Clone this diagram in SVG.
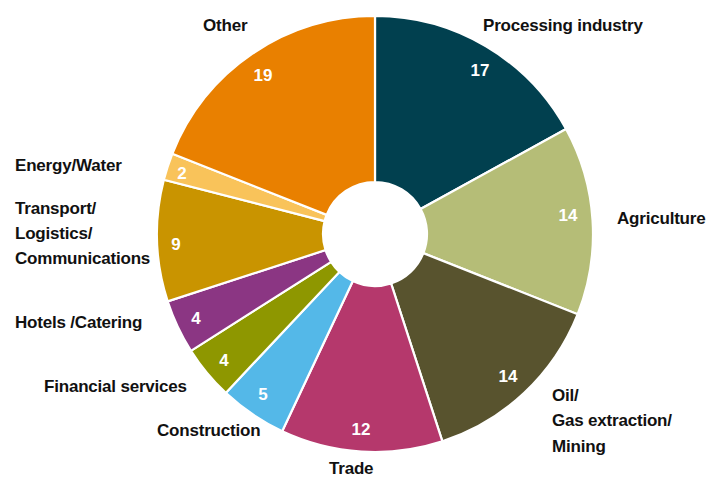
<svg xmlns="http://www.w3.org/2000/svg" width="708" height="479" viewBox="0 0 708 479">
<style>
.seg{stroke:#fff;stroke-width:2.2;stroke-linejoin:miter}
.lbl{font-family:"Liberation Sans",Arial,sans-serif;font-weight:bold;font-size:17px;fill:#111;letter-spacing:-0.2px}
.val{font-family:"Liberation Sans",Arial,sans-serif;font-weight:bold;font-size:17px;fill:#fff;text-anchor:middle}
</style>
<rect width="708" height="479" fill="#fff"/>
<g id="processing">
<path class="seg" fill="#01404f" d="M375,16 A218,218 0 0 1 566.04,128.98 L420.57,208.95 A52,52 0 0 0 375,182 Z"/>
<text class="val" x="480" y="76">17</text>
<text class="lbl" x="483" y="31">Processing industry</text>
</g>
<g id="agriculture">
<path class="seg" fill="#b5bd77" d="M566.04,128.98 A218,218 0 0 1 577.69,314.25 L423.35,253.14 A52,52 0 0 0 420.57,208.95 Z"/>
<text class="val" x="568" y="221">14</text>
<text class="lbl" x="617" y="224">Agriculture</text>
</g>
<g id="oil">
<path class="seg" fill="#58532e" d="M577.69,314.25 A218,218 0 0 1 442.37,441.33 L391.07,283.46 A52,52 0 0 0 423.35,253.14 Z"/>
<text class="val" x="508" y="382">14</text>
<text class="lbl" x="552" y="401">Oil/</text>
<text class="lbl" x="552" y="426">Gas extraction/</text>
<text class="lbl" x="552" y="452">Mining</text>
</g>
<g id="trade">
<path class="seg" fill="#b5386c" d="M442.37,441.33 A218,218 0 0 1 282.18,431.25 L352.86,281.05 A52,52 0 0 0 391.07,283.46 Z"/>
<text class="val" x="361" y="435">12</text>
<text class="lbl" x="329" y="474">Trade</text>
</g>
<g id="construction">
<path class="seg" fill="#54b8e8" d="M282.18,431.25 A218,218 0 0 1 225.77,392.92 L339.40,271.91 A52,52 0 0 0 352.86,281.05 Z"/>
<text class="val" x="263" y="400">5</text>
<text class="lbl" x="157" y="436">Construction</text>
</g>
<g id="financial">
<path class="seg" fill="#8e9700" d="M225.77,392.92 A218,218 0 0 1 190.94,350.81 L331.09,261.86 A52,52 0 0 0 339.40,271.91 Z"/>
<text class="val" x="224" y="366">4</text>
<text class="lbl" x="44" y="392">Financial services</text>
</g>
<g id="hotels">
<path class="seg" fill="#8b3683" d="M190.94,350.81 A218,218 0 0 1 167.67,301.37 L325.54,250.07 A52,52 0 0 0 331.09,261.86 Z"/>
<text class="val" x="196" y="324">4</text>
<text class="lbl" x="15" y="328">Hotels /Catering</text>
</g>
<g id="transport">
<path class="seg" fill="#c99400" d="M167.67,301.37 A218,218 0 0 1 163.85,179.79 L324.63,221.07 A52,52 0 0 0 325.54,250.07 Z"/>
<text class="val" x="176" y="250">9</text>
<text class="lbl" x="15" y="214">Transport/</text>
<text class="lbl" x="15" y="239">Logistics/</text>
<text class="lbl" x="15" y="264">Communications</text>
</g>
<g id="energy">
<path class="seg" fill="#f9c35a" d="M163.85,179.79 A218,218 0 0 1 172.31,153.75 L326.65,214.86 A52,52 0 0 0 324.63,221.07 Z"/>
<text class="val" x="182" y="179">2</text>
<text class="lbl" x="15" y="171">Energy/Water</text>
</g>
<g id="other">
<path class="seg" fill="#e98000" d="M172.31,153.75 A218,218 0 0 1 375,16 L375,182 A52,52 0 0 0 326.65,214.86 Z"/>
<text class="val" x="263" y="81">19</text>
<text class="lbl" x="203" y="31">Other</text>
</g>
<g id="connectors"></g>
</svg>
